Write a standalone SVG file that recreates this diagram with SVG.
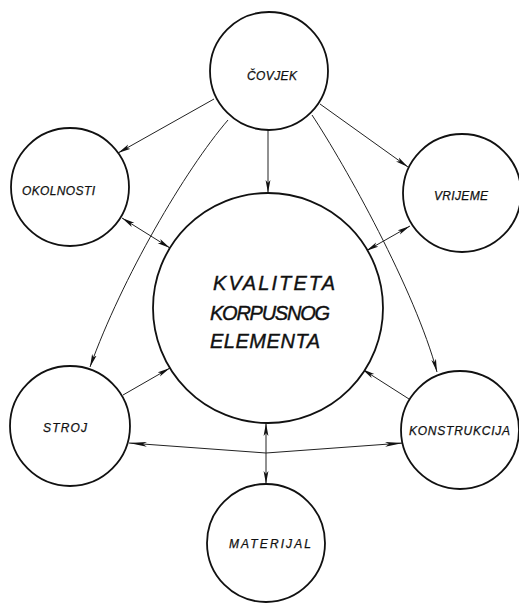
<svg xmlns="http://www.w3.org/2000/svg" width="519" height="603" viewBox="0 0 519 603">
<style>
.node circle{fill:#fff;stroke:#111;stroke-width:1.8}
.node text{font-family:"Liberation Sans","DejaVu Sans",sans-serif;font-style:italic;fill:#111;font-size:12px;stroke:#111;stroke-width:0.25}
.big text{font-size:20px;stroke-width:0.4}
.conn path{fill:none;stroke:#222;stroke-width:1}
.one{marker-end:url(#ah)}
.two{marker-start:url(#ah);marker-end:url(#ah)}
.long{marker-start:url(#ahl);marker-end:url(#ahl)}
</style>
<defs>
<marker id="ah" viewBox="0 -3 13 6" refX="13" refY="0" markerWidth="13" markerHeight="6" markerUnits="userSpaceOnUse" orient="auto-start-reverse">
<path d="M0,-2.4 L13,0 L0,2.4 L3,0 z" fill="#111"/>
</marker>
<marker id="ahl" viewBox="0 -3 18 6" refX="18" refY="0" markerWidth="18" markerHeight="6" markerUnits="userSpaceOnUse" orient="auto-start-reverse">
<path d="M0,-2.4 L18,0 L0,2.4 L4,0 z" fill="#111"/>
</marker>
</defs>
<rect width="519" height="603" fill="#fff"/>
<g id="connectors" class="conn">
<path class="one" d="M214,99 L118,153"/>
<path class="one" d="M268,130 L268,193"/>
<path class="one" d="M320,104 L408,167"/>
<path class="one" d="M228,120 C185,170 122,278 90,367"/>
<path class="one" d="M312,115 C345,165 415,290 437,372"/>
<path class="two" d="M122,218 L170,248"/>
<path class="two" d="M410,226 L366,251"/>
<path class="one" d="M123,395 L170,368"/>
<path class="one" d="M409,399 L362,369"/>
<path class="long" d="M129,443 L266,453 L403,443"/>
<path class="two" d="M266,423 L266,484"/>
</g>
<g id="covjek" class="node"><circle cx="269" cy="71" r="59"/><text x="247" y="80" textLength="50" lengthAdjust="spacing">ČOVJEK</text></g>
<g id="okolnosti" class="node"><circle cx="70" cy="187" r="59"/><text x="22" y="195" textLength="73" lengthAdjust="spacing">OKOLNOSTI</text></g>
<g id="vrijeme" class="node"><circle cx="462" cy="193" r="59"/><text x="434" y="200" textLength="54" lengthAdjust="spacing">VRIJEME</text></g>
<g id="kvaliteta" class="node big"><circle cx="268" cy="308" r="115"/>
<text x="213" y="290" textLength="122" lengthAdjust="spacing">KVALITETA</text>
<text x="210" y="320" textLength="120" lengthAdjust="spacing">KORPUSNOG</text>
<text x="210" y="348" textLength="110" lengthAdjust="spacing">ELEMENTA</text></g>
<g id="stroj" class="node"><circle cx="70" cy="426" r="60"/><text x="43" y="432" textLength="44" lengthAdjust="spacing">STROJ</text></g>
<g id="konstrukcija" class="node"><circle cx="460" cy="430" r="59"/><text x="409" y="435" textLength="101" lengthAdjust="spacing">KONSTRUKCIJA</text></g>
<g id="materijal" class="node"><circle cx="266" cy="543" r="59"/><text x="229" y="548" textLength="82" lengthAdjust="spacing">MATERIJAL</text></g>
</svg>
